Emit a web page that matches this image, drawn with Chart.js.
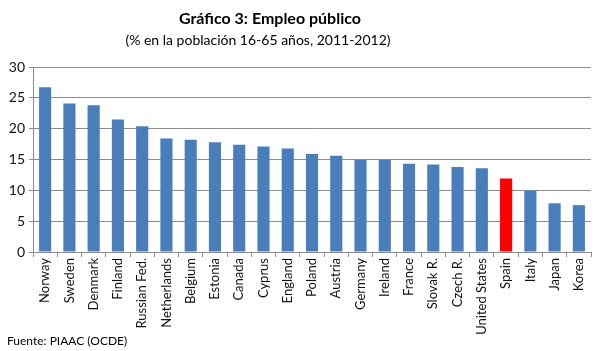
<!DOCTYPE html>
<html>
<head>
<meta charset="utf-8">
<script src="https://cdn.jsdelivr.net/npm/chart.js@4/dist/chart.umd.min.js"></script>
<style>
  html, body { margin: 0; padding: 0; background: #fff; }
  #wrap { position: relative; width: 598px; height: 351px; font-family: Lato, "Open Sans", sans-serif; color: #000; }
  #title { position: absolute; left: 0; width: 540px; top: 8px; text-align: center; font-weight: bold; font-size: 16px; }
  #subtitle { position: absolute; left: 0; width: 516px; top: 31px; text-align: center; font-size: 14px; }
  #source { position: absolute; left: 7px; top: 333px; font-size: 12px; }
</style>
</head>
<body>
<div id="wrap">
  <canvas id="chart_empleoPublico" width="598" height="351"></canvas>
  <div id="title">Gráfico 3: Empleo público</div>
  <div id="subtitle">(% en la población 16-65 años, 2011-2012)</div>
  <div id="source">Fuente: PIAAC (OCDE)</div>
</div>
<script>
var countries = [
    'Norway', 'Sweden', 'Denmark', 'Finland', 'Russian Fed.', 'Netherlands',
    'Belgium', 'Estonia', 'Canada', 'Cyprus', 'England', 'Poland', 'Austria',
    'Germany', 'Ireland', 'France', 'Slovak R.', 'Czech R.', 'United States',
    'Spain', 'Italy', 'Japan', 'Korea'
];
var publicEmployment = [
    26.7, 24.1, 23.8, 21.5, 20.4, 18.4,
    18.2, 17.8, 17.4, 17.1, 16.8, 15.9, 15.6,
    14.9, 14.9, 14.3, 14.2, 13.8, 13.6,
    11.9, 9.9, 7.9, 7.6
];
var highlighted = 'Spain';

var barColors = countries.map(function (c) {
    return c === highlighted ? '#ff0000' : '#4a7ebb';
});

var chart_empleoPublico = new Chart(document.getElementById('chart_empleoPublico'), {
    type: 'bar',
    data: {
        labels: countries,
        datasets: [
            {
                label: 'Empleo público',
                data: publicEmployment,
                backgroundColor: barColors,
                borderWidth: 0,
                categoryPercentage: 1,
                barPercentage: 0.5
            }
        ]
    },
    options: {
        animation: false,
        responsive: false,
        layout: {
            padding: { top: 67, right: 7, left: 0, bottom: 0 }
        },
        plugins: {
            legend: { display: false },
            title: { display: false },
            tooltip: { enabled: false }
        },
        scales: {
            x: {
                afterFit: function (scale) { scale.height = 99; },
                grid: {
                    display: true,
                    drawOnChartArea: false,
                    drawTicks: true,
                    tickLength: 5,
                    color: '#8c8c8c',
                    offset: true
                },
                border: { color: '#8c8c8c' },
                ticks: {
                    minRotation: 90,
                    maxRotation: 90,
                    autoSkip: false,
                    padding: 1,
                    color: '#111',
                    font: { family: 'Lato', size: 13 }
                }
            },
            y: {
                min: 0,
                max: 30,
                afterFit: function (scale) { scale.width = 33; },
                grid: {
                    color: '#8c8c8c',
                    drawTicks: true,
                    tickLength: 4
                },
                border: { color: '#8c8c8c' },
                ticks: {
                    stepSize: 5,
                    padding: 4,
                    color: '#111',
                    font: { family: 'Lato', size: 14 }
                }
            }
        }
    },
    plugins: [{
        id: 'whiteBackground',
        beforeDraw: (chart) => {
            const ctx = chart.canvas.getContext('2d');
            ctx.save();
            ctx.globalCompositeOperation = 'destination-over';
            ctx.fillStyle = 'white';
            ctx.fillRect(0, 0, chart.canvas.width, chart.canvas.height);
            ctx.restore();
        }
    }]
});
</script>
</body>
</html>
